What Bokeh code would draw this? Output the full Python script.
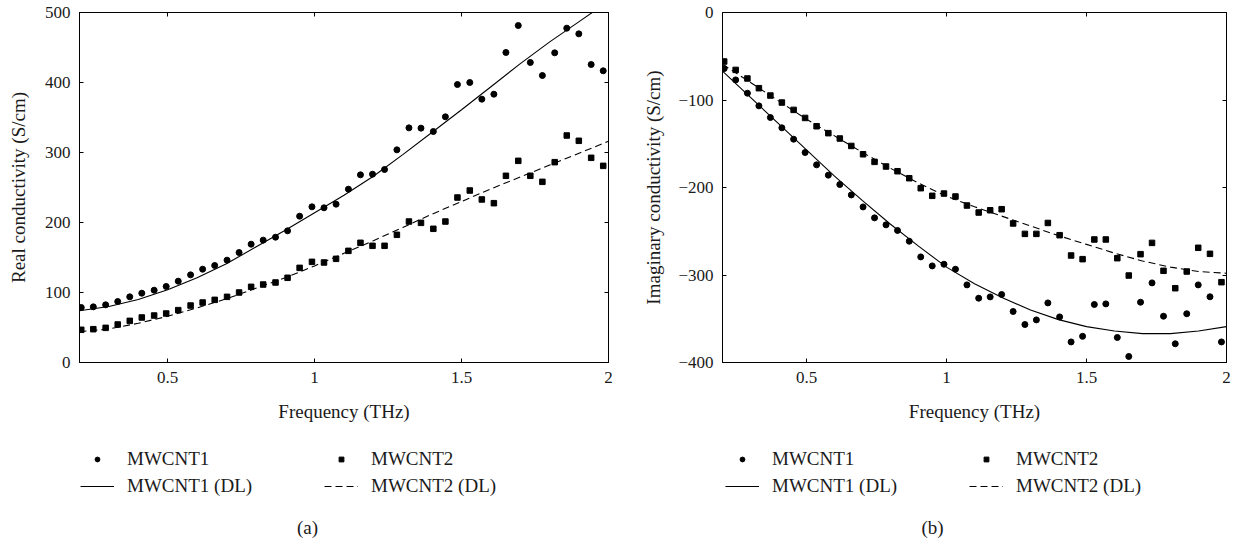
from bokeh.plotting import figure
from bokeh.layouts import row, column
from bokeh.models import Legend, LegendItem, LinearAxis, FixedTicker, Range1d, Label
from bokeh.embed import file_html
from bokeh.resources import INLINE

# ---------------- data ----------------
freq = [0.206, 0.247, 0.289, 0.330, 0.371, 0.412, 0.454, 0.495, 0.536, 0.578,
        0.619, 0.660, 0.702, 0.743, 0.784, 0.825, 0.867, 0.908, 0.949, 0.991,
        1.032, 1.073, 1.115, 1.156, 1.197, 1.238, 1.280, 1.321, 1.362, 1.404,
        1.445, 1.486, 1.528, 1.569, 1.610, 1.651, 1.693, 1.734, 1.775, 1.817,
        1.858, 1.899, 1.941, 1.982]

real_mwcnt1 = [78.6, 79.5, 82.4, 87.1, 93.8, 99.0, 103.3, 108.6, 116.2, 125.2,
               133.3, 138.6, 146.2, 157.1, 169.0, 174.8, 179.0, 188.1, 209.0, 222.4,
               221.0, 226.2, 247.6, 268.1, 269.0, 275.7, 303.8, 335.2, 334.8, 330.0,
               351.0, 397.1, 400.0, 376.2, 383.3, 442.9, 481.4, 428.6, 410.0, 442.4,
               477.6, 469.5, 425.7, 416.7]
real_mwcnt2 = [46.7, 47.6, 49.5, 54.3, 59.5, 64.3, 67.1, 70.0, 74.8, 81.4,
               85.7, 89.5, 93.8, 100.0, 108.1, 111.4, 114.3, 121.0, 135.2, 143.8,
               142.9, 148.1, 159.5, 171.0, 166.7, 166.7, 182.4, 201.4, 199.5, 191.0,
               201.4, 235.7, 245.7, 232.9, 227.6, 266.7, 288.1, 266.7, 258.1, 286.2,
               324.3, 316.7, 292.4, 280.9]
imag_mwcnt1 = [-64.1, -77.0, -92.2, -106.7, -120.0, -131.8, -144.8, -160.0, -174.1, -185.9,
               -196.6, -208.5, -222.2, -234.7, -242.7, -249.1, -261.4, -279.3, -289.6, -287.7,
               -293.4, -311.3, -326.5, -325.0, -322.3, -341.7, -356.6, -351.3, -331.9, -347.9,
               -376.5, -370.1, -333.7, -333.0, -371.4, -393.1, -331.1, -309.0, -347.1, -378.6,
               -344.3, -311.3, -324.9, -376.5]
imag_mwcnt2 = [-56.0, -65.6, -75.4, -86.5, -94.9, -102.9, -111.3, -120.5, -130.0, -137.9,
               -144.0, -152.5, -162.0, -170.7, -176.0, -181.4, -189.4, -200.8, -209.5, -206.9,
               -210.3, -220.6, -228.6, -226.0, -224.8, -241.1, -253.0, -253.0, -240.5, -254.5,
               -277.7, -281.9, -259.4, -259.4, -280.8, -300.6, -276.2, -263.3, -295.2, -315.1,
               -296.0, -268.9, -275.8, -308.2]

fit_freq = [0.2, 0.3, 0.4, 0.5, 0.6, 0.7, 0.8, 0.9, 1.0, 1.1,
            1.2, 1.3, 1.4, 1.5, 1.6, 1.7, 1.8, 1.9, 2.0]
real_fit1 = [74, 80, 90, 104, 121, 141, 165, 189, 214, 239,
             266, 297, 329, 361, 394, 427, 458, 487, 516]
real_fit2 = [44, 48, 56, 66, 78, 91, 106, 121, 138, 156,
             174, 193, 212, 230, 248, 265, 282, 299, 316]
imag_fit1 = [-67, -97, -127, -157, -187, -215, -242, -267, -291, -310,
             -326, -340, -351, -359, -364, -367, -367, -364, -359]
imag_fit2 = [-59, -80, -101, -122, -141, -160, -178, -195, -210, -222,
             -233, -244, -255, -265, -275, -284, -291, -296, -298]

x_ticks = [0.5, 1, 1.5, 2]
x_tick_labels = ["0.5", "1", "1.5", "2"]
real_ticks = [0, 100, 200, 300, 400, 500]
real_tick_labels = ["0", "100", "200", "300", "400", "500"]
imag_ticks = [-400, -300, -200, -100, 0]
imag_tick_labels = ["\u2212400", "\u2212300", "\u2212200", "\u2212100", "0"]

labels = ["MWCNT1", "MWCNT2", "MWCNT1 (DL)", "MWCNT2 (DL)"]

FONT = "Liberation Serif"
TXT = "#1a1a1a"
LEG_H = 116
NAN = float("nan")


def style_axis(ax, ticks, tick_labels, show_labels=True):
    ax.ticker = FixedTicker(ticks=ticks)
    ax.major_label_overrides = {t: l for t, l in zip(ticks, tick_labels)}
    ax.axis_line_color = "black"
    ax.axis_line_width = 1
    ax.major_tick_in = 4
    ax.major_tick_out = 0
    ax.major_tick_line_color = "black"
    ax.minor_tick_line_color = None
    ax.major_label_text_font = FONT
    ax.axis_label_text_font = FONT
    ax.axis_label_text_font_style = "normal"
    ax.axis_label_text_color = TXT
    if show_labels:
        ax.major_label_text_font_size = "17px"
        ax.major_label_text_color = TXT
        ax.major_label_standoff = 9
    else:
        ax.major_label_text_font_size = "1px"
        ax.major_label_text_color = None
        ax.major_label_standoff = 0


def make_panel(x_pts, y1, y2, xf, f1, f2, y_range, y_ticks, y_tick_labels, ylabel,
               caption, border_left, frame_w, border_right, cap_x, ylab_standoff, leg_x):
    total_w = border_left + frame_w + border_right
    p = figure(frame_width=frame_w, frame_height=350,
               x_range=Range1d(0.2, 2.0), y_range=Range1d(*y_range),
               output_backend="svg", toolbar_location=None,
               min_border_left=border_left, min_border_right=border_right,
               min_border_top=12, min_border_bottom=62)
    p.background_fill_color = "white"
    p.border_fill_color = "white"
    p.outline_line_color = "black"
    p.outline_line_width = 1
    p.xgrid.grid_line_color = None
    p.ygrid.grid_line_color = None

    p.scatter(x_pts, y1, marker="circle", size=6, fill_color="black", line_color="black")
    p.scatter(x_pts, y2, marker="square", size=5.5, fill_color="black", line_color="black")
    p.line(xf, f1, line_color="black", line_width=1.1)
    p.line(xf, f2, line_color="black", line_width=1.1, line_dash="7 4")

    style_axis(p.xaxis[0], x_ticks, x_tick_labels)
    p.xaxis[0].axis_label = "Frequency (THz)"
    p.xaxis[0].axis_label_text_font_size = "19px"
    p.xaxis[0].axis_label_standoff = 15
    style_axis(p.yaxis[0], y_ticks, y_tick_labels)
    p.yaxis[0].axis_label = ylabel
    p.yaxis[0].axis_label_text_font_size = "19px"
    p.yaxis[0].axis_label_standoff = ylab_standoff

    top = LinearAxis()
    style_axis(top, x_ticks, x_tick_labels, show_labels=False)
    p.add_layout(top, "above")
    right = LinearAxis()
    style_axis(right, y_ticks, y_tick_labels, show_labels=False)
    p.add_layout(right, "right")

    # legend strip with caption below the plot (frame aligned with the plot above)
    q = figure(width=total_w, height=LEG_H, x_range=Range1d(0, 1), y_range=Range1d(0, 1),
               x_axis_type=None, y_axis_type=None, output_backend="svg",
               toolbar_location=None, min_border=0)
    q.outline_line_color = None
    q.xgrid.grid_line_color = None
    q.ygrid.grid_line_color = None
    q.background_fill_color = "white"
    q.border_fill_color = "white"
    # legend proxies (no visible data)
    g1 = q.scatter([NAN], [NAN], marker="circle", size=6, fill_color="black", line_color="black")
    g2 = q.scatter([NAN], [NAN], marker="square", size=5.5, fill_color="black", line_color="black")
    g3 = q.line([NAN, NAN], [NAN, NAN], line_color="black", line_width=1.1)
    g4 = q.line([NAN, NAN], [NAN, NAN], line_color="black", line_width=1.1, line_dash="7 4")
    legend = Legend(items=[LegendItem(label=labels[0], renderers=[g1]),
                           LegendItem(label=labels[1], renderers=[g2]),
                           LegendItem(label=labels[2], renderers=[g3]),
                           LegendItem(label=labels[3], renderers=[g4])],
                    orientation="horizontal", ncols=2,
                    location=(leg_x, 43), margin=0, padding=0, spacing=5,
                    glyph_width=34, glyph_height=12, label_height=20,
                    label_standoff=13, label_width=192,
                    label_text_font=FONT, label_text_font_size="19px",
                    label_text_color=TXT,
                    border_line_color=None, background_fill_alpha=0)
    q.add_layout(legend, "center")
    cap = Label(x=cap_x, y=13, x_units="screen", y_units="screen", text=caption,
                text_align="center", text_baseline="middle",
                text_font=FONT, text_font_size="19px", text_color=TXT)
    q.add_layout(cap)
    return column(p, q, spacing=0)


pa = make_panel(freq, real_mwcnt1, real_mwcnt2, fit_freq, real_fit1, real_fit2,
                (0, 500), real_ticks, real_tick_labels, "Real conductivity (S/cm)",
                "(a)", 79, 529, 10, 228, 13, 1)
pb = make_panel(freq, imag_mwcnt1, imag_mwcnt2, fit_freq, imag_fit1, imag_fit2,
                (-400, 0), imag_ticks, imag_tick_labels, "Imaginary conductivity (S/cm)",
                "(b)", 104, 504, 8, 210, 11, 3)

layout = row(pa, pb, spacing=0)
open("out.html", "w").write(file_html(layout, INLINE))
